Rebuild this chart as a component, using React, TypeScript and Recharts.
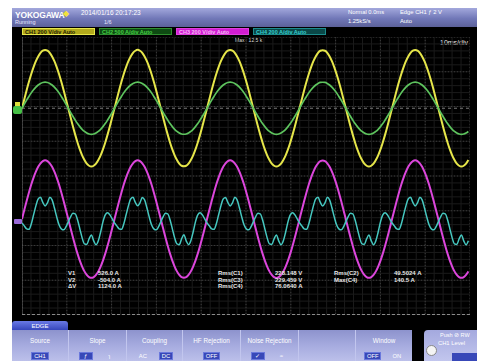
import React from 'react';
import { LineChart, Line, XAxis, YAxis, CartesianGrid, ReferenceLine } from 'recharts';

// record: 40 samples per mains cycle, 10 ms/div over 10 divisions
const SAMPLE_MS = 20.65 / 40;
const DIVS_X = 10;
const DIVS_Y = 8;

// CH1 voltage (V)
const ch1Volts = [
  0, 52, 104, 152, 197, 237, 271, 298, 319, 331,
  335, 331, 319, 298, 271, 237, 197, 152, 104, 52, 0, -52, -104, -152, -197, -237, -271, -298, -319, -331, -335, -331, -319, -298, -271, -237, -197, -152, -104, -52, 0, 52, 104, 152, 197, 237, 271, 298, 319, 331,
  336, 331, 319, 298, 271, 237, 197, 152, 104, 52, 0, -52, -104, -152, -197, -237, -271, -298, -319, -331, -334, -331, -319, -298, -271, -237, -197, -152, -104, -52, 0, 52, 104, 152, 197, 237, 271, 298, 319, 331,
  335, 331, 319, 298, 271, 237, 197, 152, 104, 52, 0, -52, -104, -152, -197, -237, -271, -298, -319, -331, -336, -331, -319, -298, -271, -237, -197, -152, -104, -52, 0, 52, 104, 152, 197, 237, 271, 298, 319, 331,
  334, 331, 319, 298, 271, 237, 197, 152, 104, 52, 0, -52, -104, -152, -197, -237, -271, -298, -319, -331, -335, -331, -319, -298, -271, -237, -197, -152, -104, -52, 0, 52, 104, 152, 197, 237, 271, 298, 319, 331,
  335, 331, 319, 298, 271, 237, 197, 152, 104, 52, 0, -52, -104, -152, -197, -237, -271, -298, -319, -331, -335, -331, -319, -298,
];

// CH2 current (A), green trace
const ch2Amps = [
  0, 59, 116, 170, 221, 265, 303, 334, 357, 371,
  375, 371, 357, 334, 303, 265, 221, 170, 116, 59, 0, -59, -116, -170, -221, -265, -303, -334, -357, -371, -375, -371, -357, -334, -303, -265, -221, -170, -116, -59, 0, 59, 116, 170, 221, 265, 303, 334, 357, 371,
  376, 371, 357, 334, 303, 265, 221, 170, 116, 59, 0, -59, -116, -170, -221, -265, -303, -334, -357, -371, -374, -371, -357, -334, -303, -265, -221, -170, -116, -59, 0, 59, 116, 170, 221, 265, 303, 334, 357, 371,
  375, 371, 357, 334, 303, 265, 221, 170, 116, 59, 0, -59, -116, -170, -221, -265, -303, -334, -357, -371, -376, -371, -357, -334, -303, -265, -221, -170, -116, -59, 0, 59, 116, 170, 221, 265, 303, 334, 357, 371,
  374, 371, 357, 334, 303, 265, 221, 170, 116, 59, 0, -59, -116, -170, -221, -265, -303, -334, -357, -371, -375, -371, -357, -334, -303, -265, -221, -170, -116, -59, 0, 59, 116, 170, 221, 265, 303, 334, 357, 371,
  375, 371, 357, 334, 303, 265, 221, 170, 116, 59, 0, -59, -116, -170, -221, -265, -303, -334, -357, -371, -375, -371, -357, -334,
];

// CH3 voltage (V), magenta trace
const ch3Volts = [
  0, 53, 104, 153, 199, 239, 273, 301, 321, 334,
  338, 334, 321, 301, 273, 239, 199, 153, 104, 53, 0, -53, -104, -153, -199, -239, -273, -301, -321, -334, -338, -334, -321, -301, -273, -239, -199, -153, -104, -53, 0, 53, 104, 153, 199, 239, 273, 301, 321, 334,
  339, 334, 321, 301, 273, 239, 199, 153, 104, 53, 0, -53, -104, -153, -199, -239, -273, -301, -321, -334, -337, -334, -321, -301, -273, -239, -199, -153, -104, -53, 0, 53, 104, 153, 199, 239, 273, 301, 321, 334,
  338, 334, 321, 301, 273, 239, 199, 153, 104, 53, 0, -53, -104, -153, -199, -239, -273, -301, -321, -334, -339, -334, -321, -301, -273, -239, -199, -153, -104, -53, 0, 53, 104, 153, 199, 239, 273, 301, 321, 334,
  337, 334, 321, 301, 273, 239, 199, 153, 104, 53, 0, -53, -104, -153, -199, -239, -273, -301, -321, -334, -338, -334, -321, -301, -273, -239, -199, -153, -104, -53, 0, 53, 104, 153, 199, 239, 273, 301, 321, 334,
  338, 334, 321, 301, 273, 239, 199, 153, 104, 53, 0, -53, -104, -153, -199, -239, -273, -301, -321, -334, -338, -334, -321, -301,
];

// CH4 current (A), cyan trace with the harmonic ripple
const ch4Amps = [
  -6, -23, -40, -43, -12, 40, 92, 132, 141, 112,
  92, 109, 141, 127, 81, 29, -17, -40, -46, -29, 0, 29, 49, 46, 12, -40, -92, -127, -130, -98, -75, -109, -132, -109, -58, 0, 40, 52, 40, 17, -6, -23, -40, -43, -12, 40, 92, 132, 141, 112,
  93, 110, 140, 127, 81, 29, -17, -40, -46, -29, 0, 29, 49, 46, 12, -40, -92, -127, -131, -98, -74, -109, -131, -109, -58, 0, 40, 52, 40, 17, -6, -23, -40, -43, -12, 40, 92, 132, 140, 112,
  92, 109, 141, 127, 81, 29, -17, -40, -46, -29, 0, 29, 49, 46, 12, -40, -92, -127, -130, -98, -75, -109, -132, -109, -58, 0, 40, 52, 40, 17, -6, -23, -40, -43, -12, 40, 92, 132, 141, 112,
  91, 109, 141, 127, 81, 29, -17, -40, -46, -29, 0, 29, 49, 46, 12, -40, -92, -127, -130, -98, -76, -109, -132, -109, -58, 0, 40, 52, 40, 17, -6, -23, -40, -43, -12, 40, 92, 132, 141, 112,
  92, 109, 141, 127, 81, 29, -17, -40, -46, -29, 0, 29, 49, 46, 12, -40, -92, -127, -130, -98, -75, -109, -132, -109,
];

// per-channel vertical setup: scale and ground position (div from centre)
const channels = [
  { key: 'ch1', label: 'CH1', scale: '200 V/div', perDiv: 200, position: 1.95, color: '#e6e64a', width: 2, boxBg: '#b3aa1c', boxText: '#1c1a00', boxBorder: '#e6e64a' },
  { key: 'ch2', label: 'CH2', scale: '500 A/div', perDiv: 500, position: 1.95, color: '#5ec45e', width: 1.7, boxBg: '#0e4a12', boxText: '#46d046', boxBorder: '#2e8e2e' },
  { key: 'ch3', label: 'CH3', scale: '200 V/div', perDiv: 200, position: -1.24, color: '#dc46dc', width: 2, boxBg: '#d21ed2', boxText: '#f6bcf6', boxBorder: '#e040e0' },
  { key: 'ch4', label: 'CH4', scale: '200 A/div', perDiv: 200, position: -1.32, color: '#46c8c0', width: 1.5, boxBg: '#0a4848', boxText: '#38d0d0', boxBorder: '#1c8c8c' },
];

const cursorRows = [
  ['V1', '526.0 A'],
  ['V2', '-504.0 A'],
  ['\u0394V', '1124.0 A'],
];
const measureCol1 = [
  ['Rms(C1)', '228.148 V'],
  ['Rms(C3)', '229.459 V'],
  ['Rms(C4)', '76.0640 A'],
];
const measureCol2 = [
  ['Rms(C2)', '49.5024 A'],
  ['Max(C4)', '140.5 A'],
];

const menuItems = [
  { title: 'Source', width: 56, options: [{ text: 'CH1', on: true }] },
  { title: 'Slope', width: 58, options: [{ text: '\u0192', on: true }, { text: '\u027F', on: false }] },
  { title: 'Coupling', width: 56, options: [{ text: 'AC', on: false }, { text: 'DC', on: true }] },
  { title: 'HF Rejection', width: 58, options: [{ text: 'OFF', on: true }] },
  { title: 'Noise Rejection', width: 58, options: [{ text: '\u2713', on: true }, { text: '\u2248', on: false }] },
  { title: '', width: 57, options: [] },
  { title: 'Window', width: 57, options: [{ text: 'OFF', on: true }, { text: 'ON', on: false }] },
];

const rows = ch1Volts.map((v, i) => ({
  t: i * SAMPLE_MS,
  ch1: v,
  ch2: ch2Amps[i],
  ch3: ch3Volts[i],
  ch4: ch4Amps[i],
}));

const PLOT_LEFT = 22;
const PLOT_TOP = 37;
const PLOT_W = 448;
const PLOT_H = 278;
const DIV_H = PLOT_H / DIVS_Y;

const abs = (left: number, top: number, extra: React.CSSProperties = {}): React.CSSProperties => ({
  position: 'absolute',
  left,
  top,
  whiteSpace: 'nowrap',
  lineHeight: 1,
  ...extra,
});

const gridV = (n: number) => ({ offset }: any) =>
  Array.from({ length: n + 1 }, (_, i) => offset.left + (i * offset.width) / n);
const gridH = (n: number) => ({ offset }: any) =>
  Array.from({ length: n + 1 }, (_, i) => offset.top + (i * offset.height) / n);

const App: React.FC = () => (
  <div
    style={{
      position: 'absolute',
      left: 0,
      top: 0,
      width: 477,
      height: 361,
      background: '#fff',
      overflow: 'hidden',
      fontFamily: '"Liberation Sans", Arial, sans-serif',
      color: '#fff',
    }}
  >
    {/* scope screen */}
    <div style={abs(12, 8, { width: 465, height: 353, background: '#000' })} />

    {/* header */}
    <div
      style={abs(12, 8, {
        width: 465,
        height: 19,
        background: 'linear-gradient(180deg, #a3a8dc 0%, #7178b8 55%, #5c6199 100%)',
      })}
    />
    <div style={abs(15, 11, { fontSize: 8.5, fontWeight: 700, letterSpacing: -0.2 })}>YOKOGAWA</div>
    <div style={abs(63, 10, { fontSize: 8, color: '#f2e23a' })}>{'\u25C6'}</div>
    <div style={abs(81, 10, { fontSize: 6.5 })}>2014/01/16 20:17:23</div>
    <div style={abs(15, 20, { fontSize: 5.5, color: '#e8e8ff' })}>Running</div>
    <div style={abs(104, 20, { fontSize: 5.5, color: '#e8e8ff' })}>1/6</div>
    <div style={abs(348, 10, { fontSize: 5.8 })}>Normal 0.0ms</div>
    <div style={abs(348, 19, { fontSize: 5.8 })}>1.25kS/s</div>
    <div style={abs(400, 10, { fontSize: 5.8 })}>{'Edge CH1 \u0192 2 V'}</div>
    <div style={abs(400, 19, { fontSize: 5.8 })}>Auto</div>

    {/* channel boxes */}
    {channels.map((c, i) => (
      <div
        key={c.key}
        style={abs(22 + i * 77, 28, {
          width: 73,
          height: 7,
          background: c.boxBg,
          border: `1px solid ${c.boxBorder}`,
          color: c.boxText,
          fontSize: 5.5,
          fontWeight: 700,
          paddingLeft: 2,
          paddingTop: 1,
          boxSizing: 'border-box',
        })}
      >
        {`${c.label}  ${c.scale}  Auto`}
      </div>
    ))}
    <div style={abs(235, 38, { fontSize: 5, color: '#ddd' })}>Max : 12.5 k</div>
    <div style={abs(440, 39, { fontSize: 7, color: '#eee' })}>10ms/div</div>

    {/* waveform area */}
    <div style={abs(PLOT_LEFT, PLOT_TOP)}>
      <LineChart width={PLOT_W} height={PLOT_H} data={rows} margin={{ top: 0, right: 0, bottom: 0, left: 0 }}>
        <CartesianGrid
          stroke="#1b1b1b"
          verticalCoordinatesGenerator={gridV(DIVS_X * 5)}
          horizontalCoordinatesGenerator={gridH(DIVS_Y * 5)}
        />
        <CartesianGrid
          stroke="#3a3a3a"
          strokeDasharray="1 2"
          verticalCoordinatesGenerator={gridV(DIVS_X)}
          horizontalCoordinatesGenerator={gridH(DIVS_Y)}
        />
        <XAxis dataKey="t" type="number" domain={[0, 100]} hide allowDataOverflow />
        {channels.map((c) => (
          <YAxis
            key={c.key}
            yAxisId={c.key}
            type="number"
            domain={[(-DIVS_Y / 2 - c.position) * c.perDiv, (DIVS_Y / 2 - c.position) * c.perDiv]}
            hide
            allowDataOverflow
          />
        ))}
        <ReferenceLine yAxisId="ch1" y={0} stroke="#7a7a7a" strokeDasharray="3 3" />
        <ReferenceLine yAxisId="ch1" x={0} stroke="#6a6a6a" />
        {channels.map((c) => (
          <Line
            key={c.key}
            yAxisId={c.key}
            dataKey={c.key}
            type="monotone"
            stroke={c.color}
            strokeWidth={c.width}
            dot={false}
            isAnimationActive={false}
          />
        ))}
      </LineChart>
    </div>
    <div style={abs(PLOT_LEFT, PLOT_TOP + PLOT_H - 1, { width: PLOT_W, borderTop: '1px dashed #8a8a8a' })} />

    {/* ground markers */}
    <div
      style={abs(15, PLOT_TOP + (DIVS_Y / 2 - channels[0].position) * DIV_H - 6, {
        width: 5,
        height: 4,
        background: '#dede3c',
      })}
    />
    <div
      style={abs(13, PLOT_TOP + (DIVS_Y / 2 - channels[1].position) * DIV_H - 2, {
        width: 9,
        height: 8,
        borderRadius: 2,
        background: '#46c046',
      })}
    />
    <div
      style={abs(14, PLOT_TOP + (DIVS_Y / 2 - channels[3].position) * DIV_H - 3, {
        width: 8,
        height: 5,
        borderRadius: 1,
        background: '#9a6ad8',
      })}
    />

    {/* measurements */}
    {cursorRows.map(([k, v], i) => (
      <React.Fragment key={k}>
        <div style={abs(68, 270 + i * 6.5, { fontSize: 6, fontWeight: 700, color: '#e6e6e6' })}>{k}</div>
        <div style={abs(98, 270 + i * 6.5, { fontSize: 6, fontWeight: 700, color: '#e6e6e6' })}>{v}</div>
      </React.Fragment>
    ))}
    {measureCol1.map(([k, v], i) => (
      <React.Fragment key={k + i}>
        <div style={abs(218, 270 + i * 6.5, { fontSize: 6, fontWeight: 700, color: '#e6e6e6' })}>{k}</div>
        <div style={abs(275, 270 + i * 6.5, { fontSize: 6, fontWeight: 700, color: '#e6e6e6' })}>{v}</div>
      </React.Fragment>
    ))}
    {measureCol2.map(([k, v], i) => (
      <React.Fragment key={k + i}>
        <div style={abs(334, 270 + i * 6.5, { fontSize: 6, fontWeight: 700, color: '#e6e6e6' })}>{k}</div>
        <div style={abs(394, 270 + i * 6.5, { fontSize: 6, fontWeight: 700, color: '#e6e6e6' })}>{v}</div>
      </React.Fragment>
    ))}

    {/* soft key menu */}
    <div
      style={abs(12, 321, {
        width: 56,
        height: 9,
        borderRadius: '3px 3px 0 0',
        background: 'linear-gradient(180deg, #6a7ae6 0%, #3646bc 100%)',
        fontSize: 6,
        textAlign: 'center',
        paddingTop: 1.5,
        boxSizing: 'border-box',
      })}
    >
      EDGE
    </div>
    <div
      style={abs(12, 330, {
        width: 400,
        height: 31,
        display: 'flex',
        background: 'linear-gradient(180deg, #8d93cd 0%, #a6abdf 50%, #bcc0ea 100%)',
      })}
    >
      {menuItems.map((m, i) => (
        <div
          key={i}
          style={{
            width: m.width,
            height: 31,
            borderLeft: i === 0 ? 'none' : '1px solid #c2c6ee',
            boxSizing: 'border-box',
            position: 'relative',
          }}
        >
          <div style={{ position: 'absolute', top: 8, width: '100%', textAlign: 'center', fontSize: 6.3, lineHeight: 1 }}>
            {m.title}
          </div>
          <div
            style={{
              position: 'absolute',
              top: 22,
              width: '100%',
              display: 'flex',
              justifyContent: 'space-evenly',
            }}
          >
            {m.options.map((o, j) => (
              <div
                key={j}
                style={{
                  minWidth: 14,
                  height: 8,
                  padding: '0 2px',
                  boxSizing: 'border-box',
                  background: o.on ? '#3848b8' : 'transparent',
                  border: o.on ? '1px solid #6a78dc' : '1px solid transparent',
                  fontSize: 5.8,
                  lineHeight: '6px',
                  textAlign: 'center',
                }}
              >
                {o.text}
              </div>
            ))}
          </div>
        </div>
      ))}
    </div>
    <div
      style={abs(424, 330, {
        width: 53,
        height: 31,
        borderRadius: '4px 0 0 0',
        background: 'linear-gradient(180deg, #a4a9de 0%, #c2c6ee 100%)',
      })}
    />
    <div style={abs(440, 333, { fontSize: 5.5 })}>{'Push \u2298 RW'}</div>
    <div style={abs(438, 341, { fontSize: 5.8 })}>CH1 Level</div>
    <div style={abs(426, 345, { width: 11, height: 11, borderRadius: '50%', background: '#f4f4f4', border: '1px solid #888', boxSizing: 'border-box' })} />
    <div style={abs(452, 353, { width: 25, height: 8, background: '#3848b8' })} />
  </div>
);

export default App;
